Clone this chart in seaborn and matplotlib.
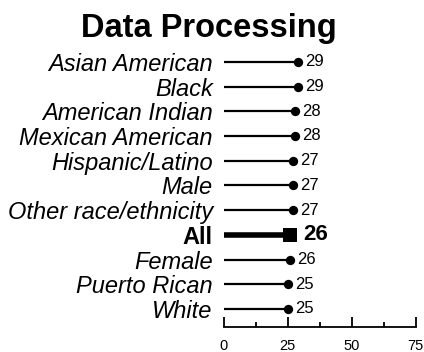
import pandas as pd
import numpy as np
import matplotlib
matplotlib.use("Agg")
import matplotlib.pyplot as plt
import seaborn as sns

# data
groups = ["Asian American", "Black", "American Indian", "Mexican American",
          "Hispanic/Latino", "Male", "Other race/ethnicity", "All",
          "Female", "Puerto Rican", "White"]
values = [29, 29, 28, 28, 27, 27, 27, 26, 26, 25, 25]
xticks = [0, 25, 50, 75]

df = pd.DataFrame({"group": groups, "value": values})
df["pos"] = np.arange(len(df))
df["is_all"] = df["group"] == "All"

sns.set_style("white")
plt.rcParams["font.family"] = ["Liberation Sans", "DejaVu Sans"]
plt.rcParams["text.color"] = "black"
plt.rcParams["xtick.color"] = "black"
plt.rcParams["ytick.color"] = "black"

fig = plt.figure(figsize=(4.24, 3.52), dpi=100)
ax = fig.add_axes([0.528, 0.0724, 0.452, 0.787])

sub = df[~df["is_all"]]
ax.hlines(sub["pos"], 0, sub["value"], color="black", lw=1.6)
sns.scatterplot(data=sub, x="value", y="pos", ax=ax, color="black",
                s=45, marker="o", edgecolor="black", linewidth=0)

al = df[df["is_all"]]
ax.hlines(al["pos"], 0, al["value"], color="black", lw=4)
sns.scatterplot(data=al, x="value", y="pos", ax=ax, color="black",
                s=100, marker="s", edgecolor="black", linewidth=0)

# value labels
for _, r in df.iterrows():
    if r["is_all"]:
        ax.annotate(str(r["value"]), (r["value"], r["pos"]),
                    xytext=(9, 0), textcoords="offset points",
                    va="center", ha="left", fontsize=16, fontweight="bold")
    else:
        ax.annotate(str(r["value"]), (r["value"], r["pos"]),
                    xytext=(5, 0), textcoords="offset points",
                    va="center", ha="left", fontsize=12)

ax.set_xlim(0, 75)
ax.set_ylim(len(df) - 1 + 0.71, -0.5)
ax.set_xticks(xticks)
ax.set_xticks([12.5, 37.5, 62.5], minor=True)
ax.set_xticklabels([str(t) for t in xticks], fontsize=10.5)
ax.tick_params(axis="x", which="major", direction="in", length=7,
               width=1.3, pad=9, bottom=True)
ax.tick_params(axis="x", which="minor", direction="in", length=3.5,
               width=1.3, bottom=True)

ax.set_yticks(df["pos"])
ax.set_yticklabels(df["group"])
ax.tick_params(axis="y", length=0, pad=8)
for lbl, g in zip(ax.get_yticklabels(), df["group"]):
    if g == "All":
        lbl.set_fontweight("bold")
        lbl.set_fontsize(17)
    else:
        lbl.set_fontstyle("italic")
        lbl.set_fontsize(17)

for side in ["top", "right", "left"]:
    ax.spines[side].set_visible(False)
ax.spines["bottom"].set_color("black")
ax.spines["bottom"].set_linewidth(1.3)
ax.set_xlabel("")
ax.set_ylabel("")

fig.text(0.493, 0.895, "Data Processing", ha="center", va="baseline",
         fontsize=23.5, fontweight="bold")

fig.savefig("out.png", dpi=100)
